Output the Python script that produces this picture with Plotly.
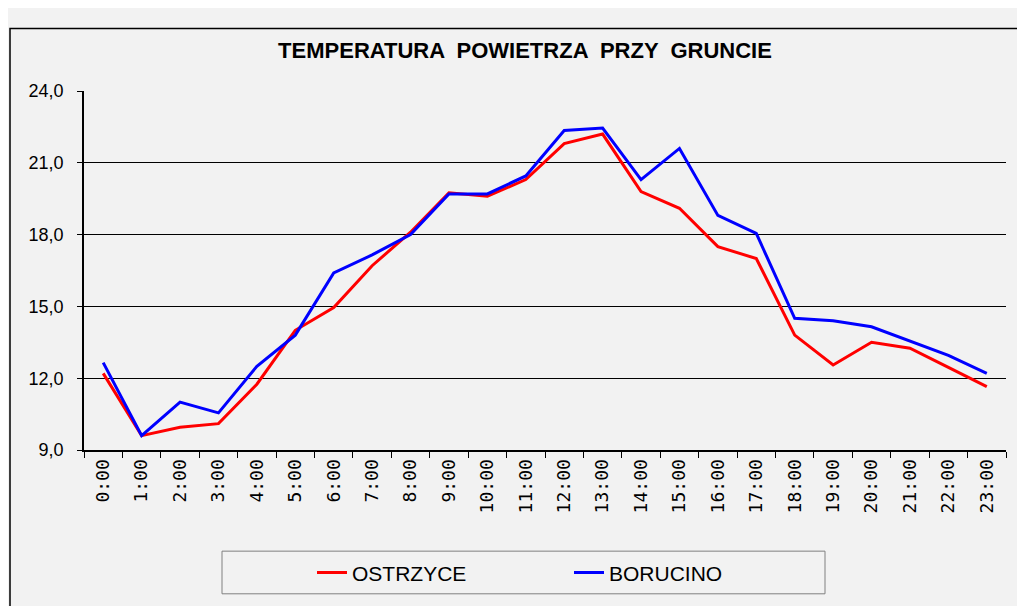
import plotly.graph_objects as go

# dane: temperatura powietrza przy gruncie (godziny 0:00-23:00)
godziny = [f"{h}:00" for h in range(24)]
ostrzyce = [12.2, 9.6, 9.95, 10.1, 11.75, 14.0, 14.95, 16.7, 18.1, 19.75,
            19.6, 20.3, 21.8, 22.2, 19.8, 19.1, 17.5, 17.0, 13.8, 12.55,
            13.5, 13.25, 12.45, 11.65]
borucino = [12.65, 9.6, 11.0, 10.55, 12.5, 13.8, 16.4, 17.15, 18.0, 19.7,
            19.7, 20.45, 22.35, 22.45, 20.3, 21.6, 18.8, 18.05, 14.5, 14.4,
            14.15, 13.55, 12.95, 12.2]
y_ticks = [9.0, 12.0, 15.0, 18.0, 21.0, 24.0]

# strona ma 8px marginesu, wiec wymiary liczone od ekranu minus 8
OFF = 8
W, H = 1017, 598
L, R, T, B = 84 - OFF, W - (1006 - OFF), 91 - OFF, H - (453 - OFF)
pw, ph = W - L - R, H - T - B


def px_x(x):
    return (x - OFF - L) / pw


def px_y(y):
    return (H - B - (y - OFF)) / ph


fig = go.Figure()
fig.add_trace(go.Scatter(x=godziny, y=ostrzyce, name="OSTRZYCE", mode="lines",
                         line=dict(color="#ff0000", width=3)))
fig.add_trace(go.Scatter(x=godziny, y=borucino, name="BORUCINO", mode="lines",
                         line=dict(color="#0000ff", width=3)))

# ramka wykresu i ramka legendy
fig.add_shape(type="rect", xref="paper", yref="paper",
              x0=px_x(10), y0=px_y(640), x1=px_x(1060), y1=px_y(28),
              line=dict(color="#000000", width=1.5))
fig.add_shape(type="rect", xref="paper", yref="paper",
              x0=px_x(222), y0=px_y(598), x1=px_x(825), y1=px_y(555),
              line=dict(color="#808080", width=1), fillcolor="#f2f2f2", layer="below")

fig.update_layout(
    width=W, height=H,
    margin=dict(l=L, r=R, t=T, b=B),
    paper_bgcolor="#f2f2f2", plot_bgcolor="#f2f2f2",
    separators=",.",
    title=dict(text="<b>TEMPERATURA  POWIETRZA  PRZY  GRUNCIE</b>",
               x=px_x(525), xref="paper", xanchor="center",
               y=1 - (50 - OFF) / H, yanchor="middle",
               font=dict(family="Liberation Sans, Arial", size=22, color="#000000")),
    font=dict(family="Liberation Sans, Arial", color="#000000"),
    showlegend=True,
    legend=dict(orientation="h", x=px_x(312), xanchor="left",
                y=px_y(577), yanchor="middle",
                bgcolor="rgba(0,0,0,0)", borderwidth=0,
                font=dict(family="Liberation Sans Narrow, Liberation Sans", size=21),
                entrywidth=212, itemwidth=30),
    xaxis=dict(type="category", tickson="boundaries", ticks="outside", ticklen=6,
               tickcolor="#000000", showline=True, linecolor="#000000", linewidth=2,
               showgrid=False, tickangle=-90,
               tickfont=dict(family="DejaVu Sans Mono", size=18),
               range=[-0.5, 23.5]),
    yaxis=dict(range=[9, 24], tickvals=y_ticks, tickformat=".1f",
               ticks="outside", ticklen=5, tickcolor="#000000",
               ticklabelstandoff=10,
               showline=True, linecolor="#000000", linewidth=1.5,
               showgrid=True, gridcolor="#000000", gridwidth=1.2,
               zeroline=False, tickfont=dict(size=18)),
)

fig.write_html("out.html")
